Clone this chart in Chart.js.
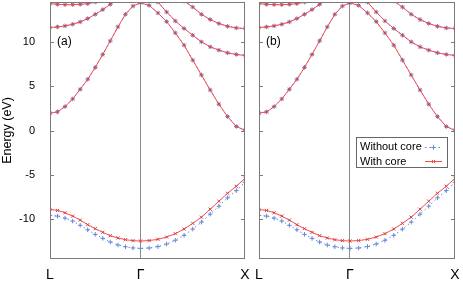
<!DOCTYPE html>
<html><head><meta charset="utf-8">
<script src="https://cdn.jsdelivr.net/npm/chart.js@4/dist/chart.umd.min.js"></script>
<style>
html,body{margin:0;padding:0;background:#fff;width:463px;height:287px;overflow:hidden}
#wa{position:absolute;left:0;top:0;width:250px;height:287px}
#wb{position:absolute;left:250px;top:0;width:213px;height:287px}
</style></head><body>
<div id="wa"><canvas id="ca"></canvas></div>
<div id="wb"><canvas id="cb"></canvas></div>
<script>
// k-path distance (L -> Gamma -> X)
const kDist = [0, 0.072, 0.144, 0.217, 0.289, 0.361, 0.433, 0.505, 0.577, 0.650, 0.722, 0.794, 0.866,
               0.949, 1.033, 1.116, 1.199, 1.283, 1.366, 1.449, 1.533, 1.616, 1.699, 1.783, 1.866];
const kTickPos = [0, 0.866, 1.866];
const kTickLabels = ['L', 'Γ', 'X'];
const yTicks = [-10, -5, 0, 5, 10];
const panelLabels = ['(a)', '(b)'];
const legendLabels = ['Without core', 'With core'];

// With core (red)
const withCoreBand1 = [-8.91, -9.02, -9.28, -9.66, -10.11, -10.63, -11.08, -11.49, -11.87, -12.13, -12.32, -12.43, -12.47,
                       -12.42, -12.28, -12.02, -11.64, -11.12, -10.48, -9.78, -8.88, -7.98, -7.08, -6.29, -5.39];
const withCoreBand2 = [1.96, 2.10, 2.70, 3.56, 4.65, 5.78, 7.12, 8.58, 10.11, 11.69, 13.11, 14.04, 14.40,
                       14.12, 13.26, 12.29, 11.01, 9.63, 7.94, 6.26, 4.57, 2.97, 1.57, 0.45, 0.02];
const withCoreBand3 = [11.62, 11.69, 11.80, 11.99, 12.25, 12.63, 13.11, 13.64, 14.24, 14.85, 15.4, 15.8, 16.0,
                       15.4, 14.49, 13.37, 12.36, 11.51, 10.75, 10.00, 9.44, 9.07, 8.76, 8.58, 8.47];
const withCoreBand4 = [14.31, 14.24, 14.20, 14.20, 14.24, 14.31, 14.49, 14.8, 15.2, 15.6, 16.1, 16.5, 16.8,
                       16.7, 16.4, 16.0, 15.3, 14.6, 13.93, 13.11, 12.52, 12.07, 11.76, 11.57, 11.51];
// Without core (blue)
const noCoreBand1 = [-9.58, -9.66, -9.89, -10.22, -10.70, -11.20, -11.72, -12.17, -12.58, -12.92, -13.12, -13.25, -13.30,
                     -13.26, -13.10, -12.81, -12.39, -11.83, -11.12, -10.34, -9.44, -8.54, -7.60, -6.78, -5.84];
const noCoreBand2 = [1.96, 2.10, 2.70, 3.56, 4.65, 5.78, 7.12, 8.58, 10.11, 11.69, 13.11, 14.04, 14.40,
                     14.12, 13.26, 12.29, 11.01, 9.63, 7.94, 6.26, 4.57, 2.97, 1.57, 0.45, 0.02];
const noCoreBand3 = [11.62, 11.69, 11.80, 11.99, 12.25, 12.63, 13.11, 13.64, 14.24, 14.85, 15.4, 15.8, 16.0,
                     15.4, 14.49, 13.37, 12.36, 11.51, 10.75, 10.00, 9.44, 9.07, 8.76, 8.58, 8.47];
const noCoreBand4 = [14.31, 14.24, 14.20, 14.20, 14.24, 14.31, 14.49, 14.8, 15.2, 15.6, 16.1, 16.5, 16.8,
                     16.7, 16.4, 16.0, 15.3, 14.6, 13.93, 13.11, 12.52, 12.07, 11.76, 11.57, 11.51];

const RED = 'rgb(238,80,80)';
const BLUE = 'rgb(100,135,215)';
const FONT = '"Liberation Sans", Arial, Helvetica, sans-serif';

function pts(arr) { return arr.map((v, i) => ({x: kDist[i], y: v})); }
function redSet(arr) {
  return {data: pts(arr), borderColor: RED, backgroundColor: RED, borderWidth: 1,
          pointStyle: 'crossRot', pointRadius: 2.2, pointBorderWidth: 1, pointBorderColor: 'rgb(220,60,70)',
          tension: 0, fill: false};
}
function blueSet(arr) {
  return {data: pts(arr), borderColor: BLUE, backgroundColor: BLUE, borderWidth: 1, borderDash: [1.5, 3],
          pointStyle: 'cross', pointRadius: 2.3, pointBorderWidth: 1, pointBorderColor: BLUE,
          tension: 0, fill: false};
}

function framePlugin(label, withLegend) {
  return {
    id: 'frame',
    afterDatasetsDraw(chart) {
      const {ctx, chartArea: a, scales} = chart;
      const ys = scales.y;
      ctx.save();
      ctx.strokeStyle = '#7a7a7a';
      ctx.lineWidth = 1;
      ctx.strokeRect(Math.round(a.left) + 0.5, Math.round(a.top) + 0.5,
                     Math.round(a.right - a.left) - 1, Math.round(a.bottom - a.top) - 1);
      ctx.beginPath();
      yTicks.forEach(v => {
        const y = Math.round(ys.getPixelForValue(v)) + 0.5;
        ctx.moveTo(a.left, y); ctx.lineTo(a.left + 4, y);
        ctx.moveTo(a.right, y); ctx.lineTo(a.right - 4, y);
      });
      ctx.stroke();
      ctx.fillStyle = '#000';
      ctx.font = '12px ' + FONT;
      ctx.textBaseline = 'middle';
      ctx.textAlign = 'left';
      ctx.fillText(label, a.left + 7, ys.getPixelForValue(10));
      if (withLegend) {
        const bx = Math.round(a.right) - 99, by = Math.round(a.top) + 135;
        ctx.fillStyle = '#fff';
        ctx.fillRect(bx, by, 91, 30);
        ctx.strokeStyle = '#666';
        ctx.strokeRect(bx + 0.5, by + 0.5, 91, 30);
        ctx.fillStyle = '#000';
        ctx.font = '11px ' + FONT;
        ctx.fillText(legendLabels[0], bx + 4, by + 9.5);
        ctx.fillText(legendLabels[1], bx + 4, by + 24.5);
        const sx0 = bx + 69, sx1 = bx + 86, cx = (sx0 + sx1) / 2;
        ctx.lineWidth = 1;
        ctx.strokeStyle = BLUE;
        ctx.setLineDash([1.5, 3]);
        ctx.beginPath(); ctx.moveTo(sx0, by + 10.5); ctx.lineTo(sx1, by + 10.5); ctx.stroke();
        ctx.setLineDash([]);
        ctx.beginPath();
        ctx.moveTo(cx - 2.3, by + 10.5); ctx.lineTo(cx + 2.3, by + 10.5);
        ctx.moveTo(cx, by + 8.2); ctx.lineTo(cx, by + 12.8);
        ctx.stroke();
        ctx.strokeStyle = RED;
        ctx.beginPath(); ctx.moveTo(sx0, by + 24.5); ctx.lineTo(sx1, by + 24.5); ctx.stroke();
        ctx.beginPath();
        ctx.moveTo(cx - 1.6, by + 22.9); ctx.lineTo(cx + 1.6, by + 26.1);
        ctx.moveTo(cx - 1.6, by + 26.1); ctx.lineTo(cx + 1.6, by + 22.9);
        ctx.stroke();
      }
      ctx.restore();
    }
  };
}

function makeChart(id, label, isLeft) {
  return new Chart(document.getElementById(id), {
    type: 'line',
    data: {
      datasets: [
        redSet(withCoreBand1), redSet(withCoreBand2), redSet(withCoreBand3), redSet(withCoreBand4),
        blueSet(noCoreBand1), blueSet(noCoreBand2), blueSet(noCoreBand3), blueSet(noCoreBand4)
      ]
    },
    options: {
      responsive: true, maintainAspectRatio: false, animation: false, devicePixelRatio: 1,
      layout: {autoPadding: false,
               padding: isLeft ? {left: 0, right: 5, top: 2, bottom: 0} : {left: 0, right: 8, top: 2, bottom: 0}},
      plugins: {legend: {display: false}, tooltip: {enabled: false}},
      scales: {
        x: {
          type: 'linear', min: 0, max: 1.866,
          afterBuildTicks: s => { s.ticks = kTickPos.map(v => ({value: v})); },
          afterFit: s => { s.height = 28; s.paddingLeft = 0; s.paddingRight = 0; s.paddingTop = 0; s.paddingBottom = 0; },
          ticks: {callback: (v, i) => kTickLabels[i], font: {size: 14, family: FONT}, color: '#000',
                  padding: 8, autoSkip: false, maxRotation: 0},
          grid: {drawTicks: false, lineWidth: 1,
                 color: c => (c.tick && Math.abs(c.tick.value - 0.866) < 1e-6) ? '#8c8c8c' : 'rgba(0,0,0,0)'},
          border: {display: false}
        },
        y: {
          type: 'linear', min: -14.5, max: 14.5,
          afterBuildTicks: s => { s.ticks = yTicks.map(v => ({value: v})); },
          afterFit: s => { s.width = isLeft ? 50 : 9; s.paddingTop = 0; s.paddingBottom = 0; s.paddingLeft = 0; s.paddingRight = 0; },
          ticks: {display: isLeft, font: {size: 11, family: FONT}, color: '#000', padding: 7},
          grid: {display: false},
          border: {display: false},
          title: {display: isLeft, text: 'Energy (eV)', font: {size: 12.5, family: FONT}, color: '#000',
                  padding: {top: 0, bottom: 0}}
        }
      }
    },
    plugins: [framePlugin(label, !isLeft)]
  });
}

makeChart('ca', panelLabels[0], true);
makeChart('cb', panelLabels[1], false);
</script>
</body></html>
